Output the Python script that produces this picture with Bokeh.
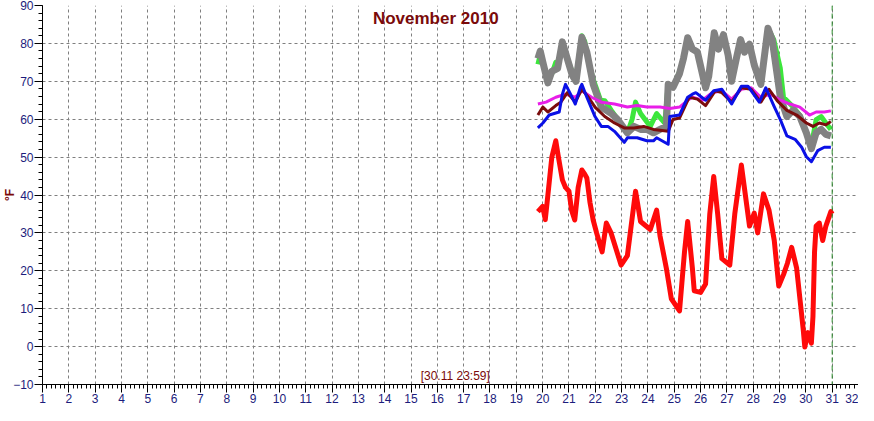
from bokeh.plotting import figure
from bokeh.models import Range1d, SingleIntervalTicker, Span, Label
from bokeh.embed import file_html
from bokeh.resources import INLINE

# ---------------- data (day of November, temperature in °F) ----------------
red_day = [19.82, 20.0, 20.1, 20.2, 20.35, 20.5, 20.6, 20.75, 20.87, 21.0, 21.1, 21.22, 21.35, 21.49,
           21.6, 21.68, 21.8, 21.92, 22.05, 22.26, 22.42, 22.6, 22.98, 23.22, 23.53, 23.72, 24.09,
           24.33, 24.46, 24.7, 24.89, 25.2, 25.39, 25.51, 25.69, 25.76, 26.0, 26.19, 26.35, 26.5,
           26.65, 26.81, 27.11, 27.3, 27.55, 27.86, 28.04, 28.17, 28.39, 28.6, 28.8, 28.97, 29.15,
           29.3, 29.46, 29.65, 29.9, 29.96, 30.08, 30.21, 30.27, 30.33, 30.39, 30.51, 30.64, 30.76,
           30.95, 31.0]
red_temp = [35.6, 37.0, 33.5, 40.0, 50.0, 54.3, 50.0, 44.0, 42.0, 41.0, 36.0, 33.4, 42.0, 46.6,
            45.5, 44.5, 38.0, 33.4, 30.0, 25.0, 32.6, 30.0, 21.5, 24.0, 41.0, 33.0, 30.9,
            36.0, 29.2, 20.7, 12.6, 9.4, 25.0, 33.0, 20.7, 14.7, 14.3, 16.5, 35.0, 44.9,
            35.0, 23.2, 21.5, 35.0, 47.9, 31.8, 35.2, 30.0, 40.3, 36.0, 28.0, 16.0, 19.0,
            22.0, 26.2, 20.7, 4.5, -0.1, 3.7, 0.9, 8.0, 25.0, 31.8, 32.6, 28.0, 31.8,
            35.6, 35.0]

gray_day = [19.82, 19.91, 20.01, 20.2, 20.35, 20.57, 20.75, 20.94, 21.12, 21.27, 21.49, 21.68, 21.92,
            22.23, 22.61, 22.85, 23.22, 23.47, 23.72, 23.96, 24.21, 24.46, 24.7, 24.77, 24.95, 25.2,
            25.35, 25.51, 25.69, 25.88, 26.19, 26.31, 26.52, 26.68, 26.87, 27.05, 27.18, 27.36, 27.52,
            27.67, 27.86, 28.04, 28.29, 28.56, 28.72, 28.91, 29.03, 29.28, 29.52, 29.77, 30.02, 30.21,
            30.39, 30.58, 30.76, 30.95]
gray_temp = [76.0, 78.0, 75.0, 69.6, 72.6, 73.4, 80.4, 75.9, 71.7, 70.0, 81.6, 77.7, 69.2,
             63.2, 61.5, 59.9, 56.4, 58.1, 57.3, 57.3, 56.4, 57.3, 58.1, 69.2, 68.4, 72.0,
             76.0, 81.5, 78.5, 77.7, 68.3, 71.3, 82.8, 78.5, 82.3, 76.8, 70.0, 76.0, 81.0,
             77.7, 79.8, 74.3, 69.2, 84.0, 81.0, 71.7, 65.8, 60.7, 62.4, 60.7, 56.4, 52.2,
             56.4, 57.3, 56.0, 55.6]

green_day = [19.82, 19.91, 20.01, 20.2, 20.35, 20.5, 20.57, 20.75, 20.94, 21.12, 21.27, 21.49, 21.6,
             21.75, 21.92, 22.05, 22.2, 22.36, 22.61, 22.85, 23.22, 23.4, 23.53, 23.72, 24.09, 24.33,
             24.45, 24.64, 24.77, 24.95, 25.2, 25.35, 25.51, 25.69, 25.88, 26.19, 26.31, 26.52, 26.68,
             26.87, 27.05, 27.18, 27.36, 27.52, 27.67, 27.86, 28.04, 28.29, 28.56, 28.78, 29.03, 29.15,
             29.52, 29.77, 30.14, 30.21, 30.39, 30.58, 30.76, 30.95]
green_temp = [74.5, 77.0, 75.0, 70.5, 72.0, 75.0, 74.0, 80.0, 76.0, 72.5, 71.0, 82.0, 80.5,
              75.0, 70.5, 68.0, 65.0, 64.9, 62.3, 60.0, 56.4, 60.0, 64.5, 61.5, 58.1, 61.5,
              60.5, 59.0, 69.2, 68.4, 72.5, 76.0, 81.5, 78.5, 77.7, 68.5, 71.5, 82.8, 78.5,
              82.3, 77.0, 70.5, 76.0, 81.0, 78.0, 79.8, 74.5, 69.5, 84.0, 81.0, 73.4, 65.8,
              63.2, 61.0, 53.9, 53.0, 59.9, 60.7, 59.0, 57.3]

magenta_day = [19.82, 20.13, 20.5, 20.87, 21.24, 21.49, 21.86, 22.23, 22.73, 23.22, 23.59, 23.96,
               24.46, 24.83, 25.2, 25.57, 25.69, 26.07, 26.44, 26.81, 27.18, 27.55, 27.92, 28.29,
               28.66, 29.03, 29.4, 29.77, 30.14, 30.39, 30.7, 30.95]
magenta_temp = [64.0, 64.5, 65.8, 66.6, 65.8, 67.5, 65.8, 64.5, 64.0, 63.2, 63.6, 63.2,
                63.2, 62.8, 63.2, 65.3, 65.8, 65.0, 67.0, 67.5, 65.3, 67.9, 68.3, 65.8,
                66.6, 65.0, 64.0, 63.2, 61.1, 61.9, 61.9, 62.2]

maroon_day = [19.82, 20.01, 20.2, 20.5, 20.69, 20.94, 21.24, 21.49, 21.74, 21.99, 22.36, 22.73,
              23.1, 23.47, 23.84, 24.21, 24.77, 24.95, 25.2, 25.57, 25.88, 26.19, 26.56, 26.81,
              27.18, 27.55, 27.92, 28.29, 28.6, 28.91, 29.28, 29.65, 30.02, 30.27, 30.51, 30.76, 30.95]
maroon_temp = [61.1, 63.2, 61.9, 63.6, 64.5, 67.0, 64.5, 67.9, 65.8, 63.2, 60.7, 59.0,
               57.7, 57.7, 58.1, 57.3, 56.8, 59.9, 60.3, 65.8, 65.3, 63.6, 67.5, 67.0,
               64.5, 68.3, 67.9, 64.5, 67.9, 64.9, 62.3, 61.1, 59.0, 58.1, 59.0, 58.5, 59.4]

blue_day = [19.82, 20.01, 20.25, 20.63, 20.75, 20.87, 21.06, 21.24, 21.43, 21.49, 21.68, 21.99,
            22.23, 22.48, 22.73, 23.1, 23.22, 23.59, 23.96, 24.21, 24.33, 24.77, 24.83, 25.2,
            25.51, 25.69, 25.82, 26.19, 26.5, 26.81, 27.18, 27.55, 27.8, 28.23, 28.48, 28.78,
            29.03, 29.28, 29.59, 29.84, 30.02, 30.21, 30.45, 30.7, 30.95]
blue_temp = [57.7, 59.0, 61.1, 61.9, 66.6, 69.2, 66.6, 64.0, 68.3, 69.2, 65.8, 60.7,
             58.1, 58.1, 56.8, 53.9, 55.1, 55.1, 54.3, 54.3, 55.1, 53.4, 60.7, 61.1,
             65.8, 66.6, 67.0, 65.0, 67.5, 67.9, 64.0, 68.7, 68.7, 64.5, 68.3, 63.6,
             59.9, 55.6, 54.7, 52.6, 50.1, 48.8, 51.7, 52.6, 52.6]

x_start, x_end = 1, 32
y_start, y_end = -10, 90
now_day = 31
title_text = "November 2010"
stamp_text = "[30.11 23:59]"
unit_text = "°F"

FONT = "Liberation Sans"
NAVY = "#1c1c7c"
DARKRED = "#7a0a0a"

p = figure(width=858, height=405, output_backend="svg", toolbar_location=None,
           x_range=Range1d(x_start, x_end), y_range=Range1d(y_start, y_end),
           min_border_left=34, min_border_right=0, min_border_top=5, min_border_bottom=0,
           background_fill_color="white", border_fill_color="white")
p.outline_line_color = None

p.xaxis.ticker = SingleIntervalTicker(interval=1, num_minor_ticks=6)
p.yaxis.ticker = SingleIntervalTicker(interval=10, num_minor_ticks=5)
for ax in (p.xaxis, p.yaxis):
    ax.axis_line_color = "black"
    ax.major_tick_line_color = "black"
    ax.minor_tick_line_color = "black"
    ax.major_tick_in = 0
    ax.minor_tick_in = 0
    ax.major_tick_out = 8
    ax.minor_tick_out = 4
    ax.major_label_text_font = FONT
    ax.major_label_text_font_size = "12px"
    ax.major_label_text_color = NAVY
    ax.major_label_standoff = 1

p.yaxis.axis_label = unit_text
p.yaxis.axis_label_text_font = FONT
p.yaxis.axis_label_text_font_size = "12px"
p.yaxis.axis_label_text_font_style = "bold"
p.yaxis.axis_label_text_color = DARKRED
p.yaxis.axis_label_standoff = -7

for g in (p.xgrid, p.ygrid):
    g.grid_line_color = "#7f7f7f"
    g.grid_line_dash = "3 3"
    g.grid_line_width = 1

# series
p.line(green_day, green_temp, line_color="#3ce63c", line_width=5, line_join="round")
p.line(gray_day, gray_temp, line_color="#828282", line_width=7, line_join="round")
p.line(magenta_day, magenta_temp, line_color="#e81ee8", line_width=3, line_join="round")
p.line(maroon_day, maroon_temp, line_color="#7a0c0c", line_width=3, line_join="round")
p.line(blue_day, blue_temp, line_color="#0a10e6", line_width=3, line_join="round")
p.line(red_day, red_temp, line_color="#ff0a0a", line_width=5, line_join="round")

p.add_layout(Span(location=now_day, dimension="height", line_color="#2a8a2a",
                  line_dash="5 3", line_width=1))

p.add_layout(Label(x=15.94, y=86.7, text=title_text, text_align="center", text_baseline="middle",
                   text_font=FONT, text_font_size="17px", text_font_style="bold",
                   text_color=DARKRED))
p.add_layout(Label(x=16.68, y=-7.7, text=stamp_text, text_align="center", text_baseline="middle",
                   text_font=FONT, text_font_size="12px", text_color=DARKRED))

open("out.html", "w").write(file_html(p, INLINE))
